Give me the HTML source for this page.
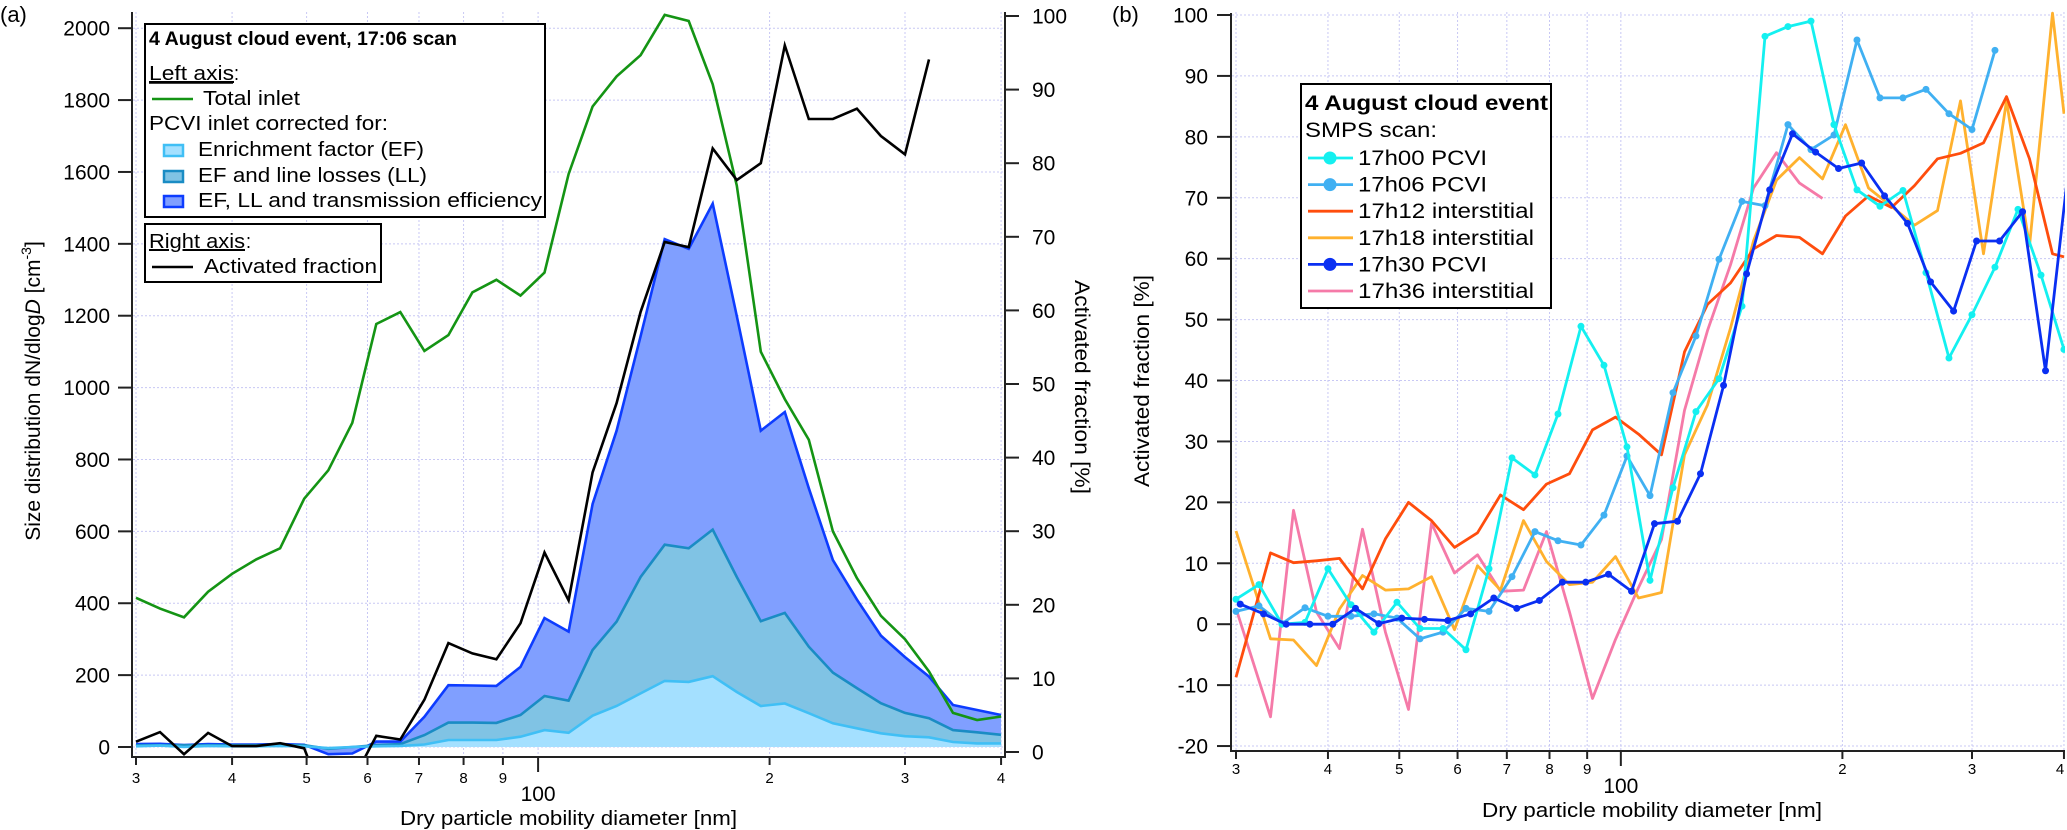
<!DOCTYPE html>
<html><head><meta charset="utf-8"><style>
html,body{margin:0;padding:0;background:#fff;}
svg{display:block;font-family:"Liberation Sans",Arial,sans-serif;}
</style></head><body>
<svg id="chart" width="2067" height="830" viewBox="0 0 2067 830" xmlns="http://www.w3.org/2000/svg">
<defs>
<clipPath id="clipA"><rect x="133" y="10" width="872" height="747"/></clipPath>
<clipPath id="clipB"><rect x="1232" y="10" width="833" height="741"/></clipPath>
</defs>
<text x="0" y="22" font-size="22">(a)</text>
<text x="1112" y="22" font-size="22">(b)</text>
</svg>
<script>
// ---------- Panel (a) data ----------
const diamA = [30.0,32.24,34.64,37.23,40.0,42.99,46.19,49.64,53.35,57.33,61.6,66.2,71.14,76.44,82.15,88.27,94.86,101.94,109.55,117.72,126.5,135.94,146.08,156.98,168.69,181.28,194.8,209.33,224.95,241.73,259.77,279.15,299.97,322.35,346.4,372.24,400.0];
const totalInlet = [415,385,361,432,482,522,553,691,770,902,1177,1210,1102,1146,1265,1300,1256,1320,1594,1782,1866,1925,2037,2020,1844,1562,1100,968,855,600,470,365,300,210,95,75,85];
const pcviEF = [2,4,0,3,2,2,3,2,-3,0,2,3,7,19.5,19.5,19.5,28.7,47,39.6,87,114,149,184,181,197,153,114,121,94,66,52,38,30,27,14,10,10];
const pcviEFLL = [5,5,5,5,5,5,5,5,-5,0,5,8,33,68,68,67,89,142,129,270,349,473,563,553,605,473,350,373,279,207,164,122,95,80,47,41,34];
const pcviEFLLTE = [8,9,5.6,8,7,7,8,6,-20,-18,15,15,84,172,171,170,223,359,321,676,880,1143,1413,1386,1512,1199,880,932,720,520,410,310,250,196,117,103,89];
const activatedA = [1.4,2.7,-0.3,2.6,0.8,0.8,1.2,0.5,-8,-4,2.2,1.7,7.1,14.8,13.4,12.6,17.5,27.1,20.6,38,47.4,59.8,69.3,68.6,82,77.7,80,96,86,86,87.4,83.7,81.2,94.1];
const leftTicks = [0,200,400,600,800,1000,1200,1400,1600,1800,2000];
const rightTicks = [0,10,20,30,40,50,60,70,80,90,100];
const xTickVals = [30,40,50,60,70,80,90,100,200,300,400];
const xTickLabels = ['3','4','5','6','7','8','9','','2','3','4'];

// ---------- Panel (b) data ----------
const diamPcvi = [30.0,32.24,34.64,37.23,40.0,42.99,46.19,49.64,53.35,57.33,61.6,66.2,71.14,76.44,82.15,88.27,94.86,101.94,109.55,117.72,126.5,135.94,146.08,156.98,168.69,181.28,194.8,209.33,224.95,241.73,259.77,279.15,299.97,322.35,346.4,372.24,400.0];
const diamInter = [30.0,33.42,35.91,38.59,41.47,44.56,47.88,51.46,55.3,59.42,63.86,68.62,73.74,79.24,85.16,91.51,98.34,105.67,113.56,122.03,131.13,140.92,151.43,162.73,174.87,187.92,201.94,217.0,233.19,250.59,269.28,289.37,310.96,334.16,359.09,385.88,400.0];
const diam1730 = [30.4,32.7,35.1,37.8,40.6,43.6,46.9,50.4,54.1,58.2,62.5,67.2,72.2,77.5,83.3,89.6,96.2,103.4,111.1,119.4,128.3,137.9,148.2,159.3,171.1,183.9,197.6,212.4,228.2,245.2,263.5,283.2,304.3,327.0,351.4,377.6,405.8];
const s1700 = [4.1,6.5,0,0.3,9.1,3.2,-1.3,3.6,-0.7,-0.7,-4.2,9.1,27.3,24.5,34.5,48.9,42.5,29.1,7.2,22.4,34.9,40.3,52.2,96.5,98.1,99,82,71.3,68.6,71.2,57.7,43.7,50.8,58.6,68.1,57.3,45.1];
const s1706 = [2.1,3,0.1,2.7,1.3,1.3,1.7,1,-2.4,-1.3,2.6,2.1,7.8,15.2,13.7,13,17.9,27.6,21.1,38,47.3,59.9,69.4,68.7,82,77.9,80.3,95.9,86.4,86.4,87.8,83.8,81.2,94.2];
const s1712 = [-8.7,11.7,10.1,10.4,10.8,5.8,14,20,17,12.6,15,21.2,18.8,23,24.7,31.9,34,31.2,27.8,44.7,52.5,56,61.6,63.8,63.5,60.8,67,70.3,68.4,72,76.4,77.3,79,86.6,76.4,60.8,60.3];
const s1718 = [15.3,-2.4,-2.6,-6.8,2.5,8,5.6,5.8,7.8,-0.9,9.6,5.6,17,10.3,6.5,6.9,11.1,4.3,5.2,27.8,36,48.6,62.9,72.9,76.6,73.1,82,71.6,68.6,65.5,67.9,85.9,60.8,85.9,62.1,100.3,83.8];
const s1730 = [3.3,1.7,0,0,0,2.6,0.1,1,0.8,0.6,1.7,4.3,2.6,3.9,6.9,6.9,8.2,5.4,16.5,16.9,24.7,39.2,57.5,71.3,80.5,77.5,74.8,75.7,70.3,65.8,56.2,51.4,62.9,62.9,67.7,41.6,75];
const s1736 = [2.6,-15.2,18.7,2,-4,15.6,-1.3,-14,16.6,8.4,11.4,5.4,5.6,15.2,2,-12.2,-2.5,6,13.9,35.1,48.2,59,71.6,77.4,72.4,69.9];
const bTicks = [-20,-10,0,10,20,30,40,50,60,70,80,90,100];

const NS='http://www.w3.org/2000/svg';
const svg=document.getElementById('chart');
function mk(tag,attrs,parent){const e=document.createElementNS(NS,tag);for(const k in attrs)e.setAttribute(k,attrs[k]);(parent||svg).appendChild(e);return e;}

// axis functions
const xa=d=>136+769*Math.log10(d/30);
const ya=v=>747-v*0.3594;
const yr=v=>752-v*7.36;
const xb=d=>1236+736*Math.log10(d/30);
const yb=v=>15+(100-v)*6.092;

// ===== Panel A grid =====
const gA=mk('g',{});


leftTicks.forEach(v=>{
  const l=mk('line',{x1:133,x2:1005,y1:ya(v),y2:ya(v),stroke:'#c8c8f4','stroke-width':1,'stroke-dasharray':'2,2'},gA);
  
  
});
xTickVals.forEach(d=>{
  const l=mk('line',{x1:xa(d),x2:xa(d),y1:12,y2:757,stroke:'#c8c8f4','stroke-width':1,'stroke-dasharray':'2,2'},gA);
  
  
});

// ===== Panel A areas =====
const plotA=mk('g',{'clip-path':'url(#clipA)'});


function areaPath(vals){
  let s='M'+xa(diamA[0])+','+ya(0);
  vals.forEach((v,i)=>{s+=' L'+xa(diamA[i]).toFixed(1)+','+ya(v).toFixed(1);});
  s+=' L'+xa(diamA[vals.length-1])+','+ya(0)+' Z';
  return s;
}
function linePts(xs,vals,fx,fy){
  const p=[];vals.forEach((v,i)=>{if(v!==null)p.push(fx(xs[i]).toFixed(1)+','+fy(v).toFixed(1));});return p.join(' ');
}
const aTE=mk('path',{d:areaPath(pcviEFLLTE),fill:'#809fff',stroke:'none'},plotA);


const aLL=mk('path',{d:areaPath(pcviEFLL),fill:'#80c3e4',stroke:'none'},plotA);


const aEF=mk('path',{d:areaPath(pcviEF),fill:'#a4e0ff',stroke:'none'},plotA);


const lTE=mk('polyline',{points:linePts(diamA,pcviEFLLTE,xa,ya),fill:'none',stroke:'#0d3cff','stroke-width':2.6},plotA);


const lLL=mk('polyline',{points:linePts(diamA,pcviEFLL,xa,ya),fill:'none',stroke:'#1a8cc4','stroke-width':2.6},plotA);


const lEF=mk('polyline',{points:linePts(diamA,pcviEF,xa,ya),fill:'none',stroke:'#40bff5','stroke-width':2.6},plotA);


const lGreen=mk('polyline',{points:linePts(diamA,totalInlet,xa,ya),fill:'none',stroke:'#149414','stroke-width':2.6},plotA);


const lBlack=mk('polyline',{points:linePts(diamA,activatedA,xa,yr),fill:'none',stroke:'#000','stroke-width':2.6},plotA);



// ===== Panel A axes =====
const axA=mk('g',{stroke:'#222','stroke-width':2});


const la=mk('line',{x1:132,x2:132,y1:12,y2:758},axA);


const ra=mk('line',{x1:1005,x2:1005,y1:12,y2:758},axA);


const ba=mk('line',{x1:132,x2:1005,y1:757,y2:757},axA);


leftTicks.forEach(v=>{
  const t=mk('line',{x1:118,x2:132,y1:ya(v),y2:ya(v)},axA);
  
  
  const tx=mk('text',{x:110,y:ya(v)+7.5,'font-size':21,'text-anchor':'end',stroke:'none',fill:'#000'});
  
  
  tx.textContent=v;
});
rightTicks.forEach(v=>{
  const t=mk('line',{x1:1005,x2:1019,y1:yr(v),y2:yr(v)},axA);
  
  
  const tx=mk('text',{x:1032,y:yr(v)+7.5,'font-size':21,stroke:'none',fill:'#000'});
  
  
  tx.textContent=v;
});
xTickVals.forEach((d,i)=>{
  const big=d===100;
  const t=mk('line',{x1:xa(d),x2:xa(d),y1:757,y2:big?772:765},axA);
  
  
  const tx=mk('text',{x:xa(d),y:783,'font-size':15,'text-anchor':'middle',stroke:'none',fill:'#000'});
  
  
  tx.textContent=xTickLabels[i];
});
const h100a=mk('text',{x:xa(100),y:801,'font-size':21,'text-anchor':'middle'});


h100a.textContent='100';
const xtA=mk('text',{x:(xa(30)+xa(400))/2,y:825,'font-size':20,'text-anchor':'middle',textLength:337,lengthAdjust:'spacingAndGlyphs'});


xtA.textContent='Dry particle mobility diameter [nm]';
const ytA=mk('text',{transform:'translate(40,391) rotate(-90)','font-size':21,'text-anchor':'middle'});


ytA.innerHTML='Size distribution dN/dlog<tspan font-style="italic">D</tspan> [cm<tspan dy="-9" font-size="14">-3</tspan><tspan dy="9">]</tspan>';
const rtA=mk('text',{transform:'translate(1075,387) rotate(90)','font-size':21,'text-anchor':'middle',textLength:214,lengthAdjust:'spacingAndGlyphs'});


rtA.textContent='Activated fraction [%]';

// ===== Panel A legends =====
const lgA=mk('g',{});


const box1=mk('rect',{x:145,y:24,width:400,height:193,fill:'#fff',stroke:'#000','stroke-width':2},lgA);


const box2=mk('rect',{x:145,y:224,width:236,height:58,fill:'#fff',stroke:'#000','stroke-width':2},lgA);


function txt(x,y,s,len,extra,name,parent){
  const t=mk('text',Object.assign({x:x,y:y,'font-size':20,textLength:len,lengthAdjust:'spacingAndGlyphs'},extra||{}),parent);
  t.textContent=s;return t;
}
let t;
t=txt(149,45,'4 August cloud event, 17:06 scan',308,{'font-weight':'bold','font-size':19},null,lgA);


t=txt(149,80,'Left axis',85,{'text-decoration':'underline'},null,lgA);


t=txt(234,80,':',5,{},null,lgA);


let u=mk('line',{x1:149,x2:233,y1:83,y2:83,stroke:'#000','stroke-width':1.5},lgA);


u=mk('line',{x1:152,x2:193,y1:99,y2:99,stroke:'#149414','stroke-width':2.6},lgA);


t=txt(203,105,'Total inlet',97,{},null,lgA);


t=txt(149,130,'PCVI inlet corrected for:',239,{},null,lgA);


const sw=[['#a4e0ff','#40bff5','Enrichment factor (EF)',226,156],['#80c3e4','#1a8cc4','EF and line losses (LL)',229,182],['#809fff','#0d3cff','EF, LL and transmission efficiency',344,207]];
sw.forEach(s=>{
  const r=mk('rect',{x:164,y:s[4]-11,width:19,height:11,fill:s[0],stroke:s[1],'stroke-width':2.5},lgA);
  
  
  const tt=txt(198,s[4],s[2],s[3],{},null,lgA);
  
  
});
t=txt(149,248,'Right axis',96,{'text-decoration':'underline'},null,lgA);


t=txt(246,248,':',5,{},null,lgA);


u=mk('line',{x1:152,x2:193,y1:267,y2:267,stroke:'#000','stroke-width':2.6},lgA);


t=txt(204,273,'Activated fraction',173,{},null,lgA);



// ===== Panel B grid =====
const gB=mk('g',{});


bTicks.forEach(v=>{
  const l=mk('line',{x1:1232,x2:2064,y1:yb(v),y2:yb(v),stroke:'#c8c8f4','stroke-width':1,'stroke-dasharray':'2,2'},gB);
  
  
});
xTickVals.forEach(d=>{
  const l=mk('line',{x1:xb(d),x2:xb(d),y1:12,y2:751,stroke:'#c8c8f4','stroke-width':1,'stroke-dasharray':'2,2'},gB);
  
  
});

// ===== Panel B series =====
const plotB=mk('g',{'clip-path':'url(#clipB)'});


function seriesB(xs,vals,color,name,markers){
  const g=mk('g',{},plotB);
  
  
  const pl=mk('polyline',{points:linePts(xs,vals,xb,yb),fill:'none',stroke:color,'stroke-width':2.8,'stroke-linejoin':'round'},g);
  
  
  if(markers){vals.forEach((v,i)=>{
    const c=mk('circle',{cx:xb(xs[i]),cy:yb(v),r:3.5,fill:color},g);
    
    
  });}
}
seriesB(diamInter.slice(0,s1736.length),s1736,'#f57aa8','series-17h36',false);
seriesB(diamInter,s1718,'#ffb12e','series-17h18',false);
seriesB(diamInter,s1712,'#ff4d0d','series-17h12',false);
seriesB(diamPcvi.slice(0,s1706.length),s1706,'#40b0f2','series-17h06',true);
seriesB(diamPcvi,s1700,'#14f0f0','series-17h00',true);
seriesB(diam1730,s1730,'#0a2ff2','series-17h30',true);

// ===== Panel B axes =====
const axB=mk('g',{stroke:'#222','stroke-width':2});


let al=mk('line',{x1:1231,x2:1231,y1:13,y2:752},axB);


al=mk('line',{x1:1231,x2:2065,y1:751,y2:751},axB);


bTicks.forEach(v=>{
  const tk=mk('line',{x1:1217,x2:1231,y1:yb(v),y2:yb(v)},axB);
  
  
  const tx=mk('text',{x:1208,y:yb(v)+7.5,'font-size':21,'text-anchor':'end',stroke:'none',fill:'#000'});
  
  
  tx.textContent=v;
});
xTickVals.forEach((d,i)=>{
  const big=d===100;
  const tk=mk('line',{x1:xb(d),x2:xb(d),y1:751,y2:big?766:759},axB);
  
  
  const tx=mk('text',{x:Math.min(xb(d),2060),y:774,'font-size':15,'text-anchor':'middle',stroke:'none',fill:'#000'});
  
  
  tx.textContent=xTickLabels[i];
});
const h100b=mk('text',{x:xb(100),y:793,'font-size':21,'text-anchor':'middle'});


h100b.textContent='100';
const xtB=mk('text',{x:1652,y:817,'font-size':20,'text-anchor':'middle',textLength:340,lengthAdjust:'spacingAndGlyphs'});


xtB.textContent='Dry particle mobility diameter [nm]';
const ytB=mk('text',{transform:'translate(1149,381) rotate(-90)','font-size':21,'text-anchor':'middle',textLength:212,lengthAdjust:'spacingAndGlyphs'});


ytB.textContent='Activated fraction [%]';

// ===== Panel B legend =====
const lgB=mk('g',{});


const boxB=mk('rect',{x:1301,y:84,width:250,height:224,fill:'#fff',stroke:'#000','stroke-width':2},lgB);


t=txt(1305,110,'4 August cloud event',243,{'font-weight':'bold','font-size':21},null,lgB);


t=txt(1305,137,'SMPS scan:',132,{'font-size':21},null,lgB);


const entries=[['#14f0f0','17h00 PCVI',true,129],['#40b0f2','17h06 PCVI',true,129],['#ff4d0d','17h12 interstitial',false,176],['#ffb12e','17h18 interstitial',false,176],['#0a2ff2','17h30 PCVI',true,129],['#f57aa8','17h36 interstitial',false,176]];
entries.forEach((e,i)=>{
  const y=158+i*26.6;
  const ln=mk('line',{x1:1308,x2:1353,y1:y,y2:y,stroke:e[0],'stroke-width':2.8},lgB);
  
  
  if(e[2]){
    const c=mk('circle',{cx:1330,cy:y,r:6.5,fill:e[0]},lgB);
    
    
  }
  const tt=txt(1358,y+7,e[1],e[3],{'font-size':21},null,lgB);
  
  
});
</script>
</body></html>
